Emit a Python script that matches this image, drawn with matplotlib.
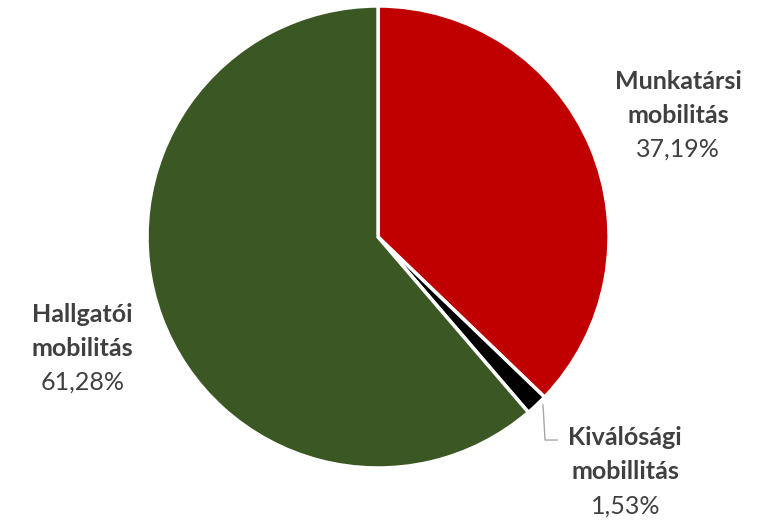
import matplotlib
matplotlib.use('Agg')
import matplotlib.pyplot as plt

plt.rcParams['font.family'] = ['Lato', 'DejaVu Sans']

kategoriak = ['Munkatársi\nmobilitás', 'Kiválósági\nmobillitás', 'Hallgatói\nmobilitás']
ertekek = [37.19, 1.53, 61.28]
szinek = ['#C00000', '#000000', '#3A5724']

# cimkek helye (x, elso sor y) a torta koordinatakban, sugar = 1
cimke_hely = [(1.30, 0.675), (1.07, -0.87), (-1.28, -0.335)]
sorkoz = 0.147

fig = plt.figure(figsize=(7.69, 5.2), dpi=100)
ax = fig.add_axes([0.1912, 0.1, 0.6008, 0.8885])
ax.pie(ertekek, startangle=90, counterclock=False, colors=szinek, radius=1,
       wedgeprops=dict(edgecolor='white', linewidth=2.5))
ax.set_xlim(-1, 1)
ax.set_ylim(-1, 1)
ax.set_aspect('equal')
ax.axis('off')

szoveg = '#404040'
for nev, v, (x, y) in zip(kategoriak, ertekek, cimke_hely):
    sorok = nev.split('\n')
    for i, s in enumerate(sorok):
        ax.text(x, y - i * sorkoz, s, ha='center', va='center', fontsize=18,
                fontweight='bold', color=szoveg, clip_on=False)
    ax.text(x, y - 2 * sorkoz, ('%.2f' % v).replace('.', ',') + '%', ha='center',
            va='center', fontsize=18, color=szoveg, clip_on=False)

# vezeto vonal a kis szelethez
ax.plot([0.714, 0.723, 0.775], [-0.727, -0.879, -0.879], color='#A6A6A6', lw=1, clip_on=False)

fig.savefig('out.png', dpi=100)
